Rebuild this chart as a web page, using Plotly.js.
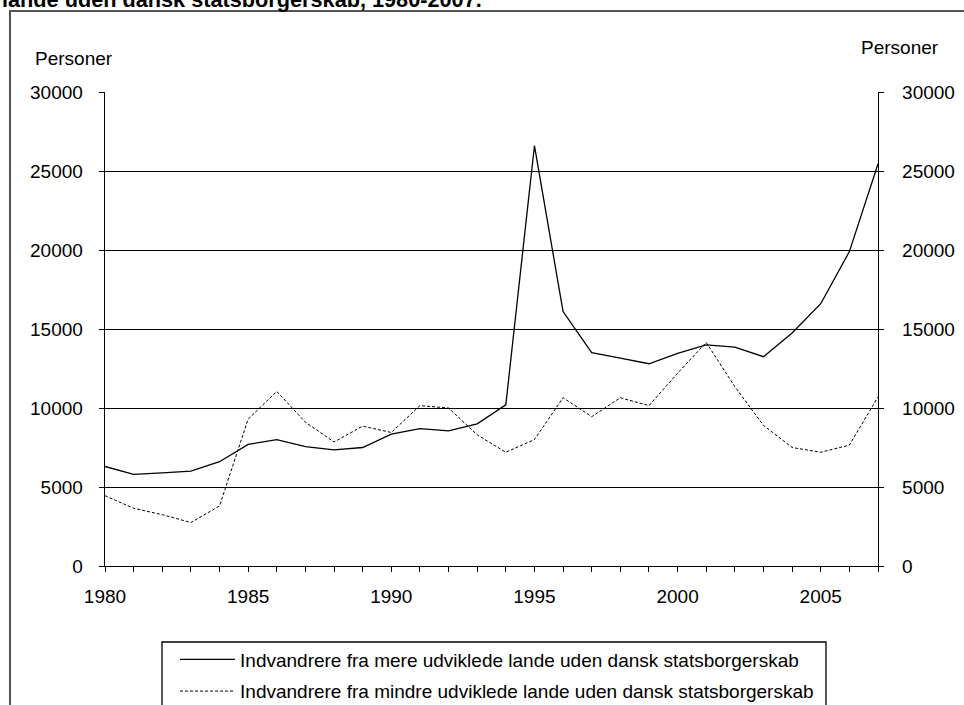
<!DOCTYPE html>
<html>
<head>
<meta charset="utf-8">
<script src="https://cdn.plot.ly/plotly-3.0.1.min.js"></script>
<style>html,body{margin:0;padding:0;background:#fff;}#chart{width:964px;height:705px;}</style>
</head>
<body>
<div id="chart"></div>
<script>
const years = [1980,1981,1982,1983,1984,1985,1986,1987,1988,1989,1990,1991,1992,1993,1994,1995,1996,1997,1998,1999,2000,2001,2002,2003,2004,2005,2006,2007];
const mereUdviklede = [6300,5800,5900,6000,6600,7700,8000,7550,7350,7500,8350,8700,8550,9000,10200,26600,16100,13500,13150,12800,13450,14000,13850,13250,14750,16600,19900,25450];
const mindreUdviklede = [4450,3650,3250,2750,3800,9300,11050,9100,7850,8850,8450,10150,10000,8300,7200,8000,10650,9450,10650,10150,12200,14150,11350,8900,7500,7200,7650,10700];
const seriesNames = ["Indvandrere fra mere udviklede lande uden dansk statsborgerskab","Indvandrere fra mindre udviklede lande uden dansk statsborgerskab"];
const yTicks = [0,5000,10000,15000,20000,25000,30000];
const xTickLabels = years.map(y => (y % 5 === 0 ? String(y) : ""));
const titleText = "lande uden dansk statsborgerskab, 1980-2007.";
const unitLabel = "Personer";

const FONT = "Arial, 'Liberation Sans', sans-serif";

const traces = [
  {x: years, y: mereUdviklede, name: seriesNames[0], type: "scatter", mode: "lines",
   line: {color: "#000", width: 1.3}, legendgroup: "a", yaxis: "y", hoverinfo: "skip"},
  {x: years, y: mindreUdviklede, name: seriesNames[1], type: "scatter", mode: "lines",
   line: {color: "#000", width: 1, dash: "3px,2px"}, legendgroup: "b", yaxis: "y2", hoverinfo: "skip"}
];

const yCommon = {
  range: [0, 30000], tickvals: yTicks, ticktext: yTicks.map(String),
  ticks: "outside", ticklen: 5, tickcolor: "#000", tickwidth: 1,
  showline: true, linecolor: "#000", linewidth: 1.3,
  tickfont: {family: FONT, size: 19, color: "#000"},
  zeroline: false, fixedrange: true
};

const layout = {
  width: 964, height: 705,
  margin: {l: 105, r: 86, t: 92, b: 139, autoexpand: false},
  paper_bgcolor: "#fff", plot_bgcolor: "#fff",
  font: {family: FONT, color: "#000"},
  showlegend: true,
  legend: {
    x: 0.0906, y: -0.1572, xanchor: "left", yanchor: "top",
    orientation: "v", traceorder: "grouped", tracegroupgap: 4,
    itemwidth: 55,
    bgcolor: "rgba(0,0,0,0)", borderwidth: 0,
    font: {family: FONT, size: 19, color: "#000"}
  },
  xaxis: {
    range: [1980, 2007], tickvals: years, ticktext: xTickLabels,
    ticks: "outside", ticklen: 5, tickcolor: "#000", tickwidth: 1,
    showline: true, linecolor: "#000", linewidth: 1.3,
    showgrid: false, zeroline: false, fixedrange: true,
    tickfont: {family: FONT, size: 19, color: "#000"},
    ticklabelstandoff: 8
  },
  yaxis: Object.assign({}, yCommon, {
    side: "left", showgrid: true, gridcolor: "#000", gridwidth: 1,
    ticklabelstandoff: 12
  }),
  yaxis2: Object.assign({}, yCommon, {
    side: "right", overlaying: "y", anchor: "x", showgrid: false,
    ticklabelstandoff: 14
  }),
  annotations: [
    {text: "<b>" + titleText + "</b>", xref: "paper", yref: "paper",
     x: -0.1358, y: 1.195, xanchor: "left", yanchor: "middle", showarrow: false,
     font: {family: FONT, size: 21.7, color: "#000"}},
    {text: unitLabel, xref: "paper", yref: "paper", x: -0.0932, y: 1.0717,
     xanchor: "left", yanchor: "middle", showarrow: false,
     font: {family: FONT, size: 19, color: "#000"}},
    {text: unitLabel, xref: "paper", yref: "paper", x: 0.9754, y: 1.0949,
     xanchor: "left", yanchor: "middle", showarrow: false,
     font: {family: FONT, size: 19, color: "#000"}}
  ],
  shapes: [
    {type: "rect", xref: "paper", yref: "paper", x0: -0.1229, x1: 1.2, y0: -0.4, y1: 1.1709,
     line: {color: "#555", width: 2}, fillcolor: "rgba(0,0,0,0)", layer: "below"},
    {type: "rect", xref: "paper", yref: "paper", x0: 0.07374, x1: 0.9327, y0: -0.4, y1: -0.16034,
     line: {color: "#000", width: 1.3}, fillcolor: "rgba(0,0,0,0)", layer: "below"}
  ]
};

Plotly.newPlot("chart", traces, layout, {staticPlot: true, displayModeBar: false});
</script>
</body>
</html>
